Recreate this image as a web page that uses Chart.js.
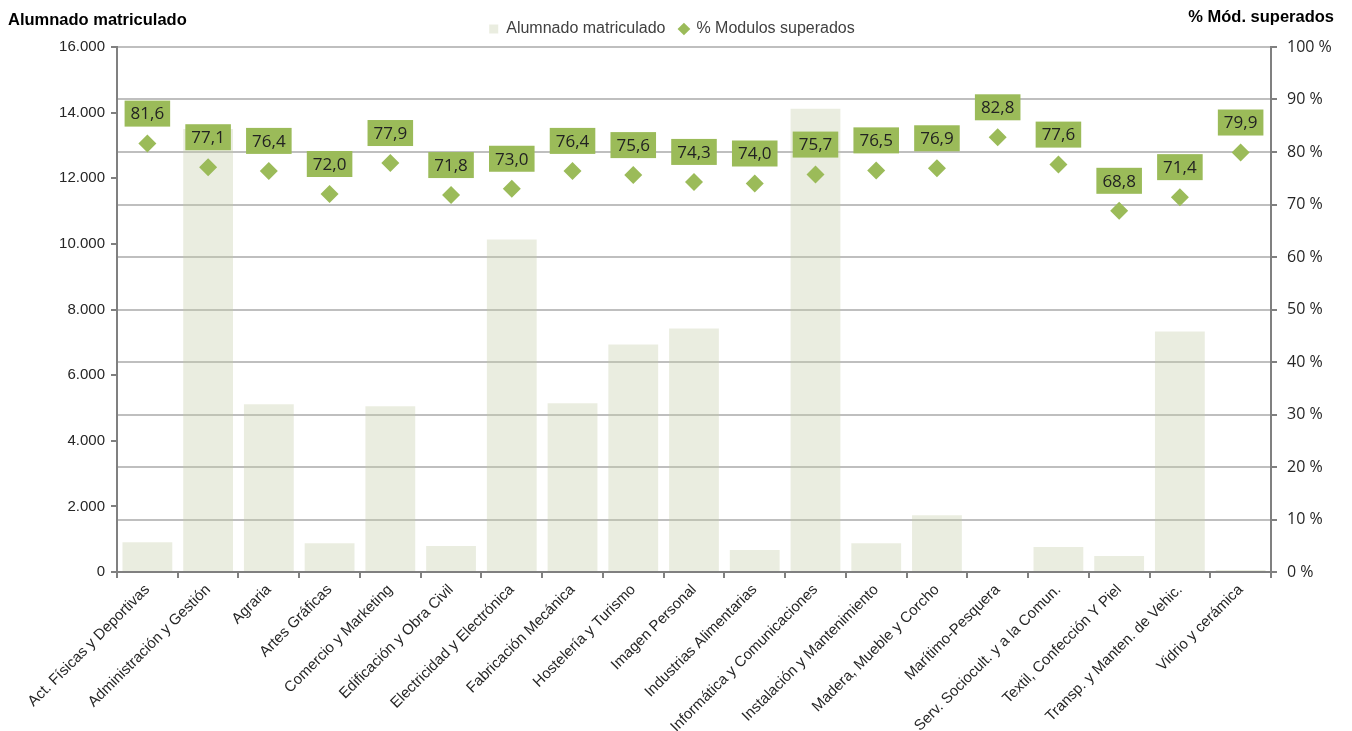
<!DOCTYPE html>
<html>
<head>
<meta charset="utf-8">
<script src="https://cdn.jsdelivr.net/npm/chart.js@4"></script>
<style>
  body { margin: 0; background: #fff; }
  #wrap { width: 1352px; height: 731px; }
</style>
</head>
<body>
<div id="wrap"><canvas id="FP_CHART"></canvas></div>
<script>
const familias = ["Act. Físicas y Deportivas", "Administración y Gestión", "Agraria", "Artes Gráficas",
    "Comercio y Marketing", "Edificación y Obra Civil", "Electricidad y Electrónica", "Fabricación Mecánica",
    "Hostelería y Turismo", "Imagen Personal", "Industrias Alimentarias", "Informática y Comunicaciones",
    "Instalación y Mantenimiento", "Madera, Mueble y Corcho", "Marítimo-Pesquera", "Serv. Sociocult. y a la Comun.",
    "Textil, Confección Y Piel", "Transp. y Manten. de Vehic.", "Vidrio y cerámica"];
const alumnado = [910, 13500, 5110, 880, 5050, 790, 10130, 5140, 6935, 7420, 670, 14115, 880, 1730, 0, 760, 490, 7330, 60];
const superados = [81.6, 77.1, 76.4, 72.0, 77.9, 71.8, 73.0, 76.4, 75.6, 74.3, 74.0, 75.7, 76.5, 76.9, 82.8, 77.6, 68.8, 71.4, 79.9];

// etiquetas verdes encima de los rombos
const etiquetas = {
    id: 'etiquetas',
    afterDatasetsDraw(chart) {
        const ctx = chart.ctx;
        const meta = chart.getDatasetMeta(1);
        ctx.save();
        ctx.font = '17px "Open Sans", sans-serif';
        ctx.textAlign = 'center';
        ctx.textBaseline = 'middle';
        meta.data.forEach((pt, i) => {
            const txt = superados[i].toFixed(1).replace('.', ',');
            const w = ctx.measureText(txt).width + 12;
            const h = 26;
            const cy = pt.y - 30;
            ctx.fillStyle = '#9BBB59';
            ctx.fillRect(pt.x - w / 2, cy - h / 2, w, h);
            ctx.fillStyle = '#222';
            ctx.fillText(txt, pt.x, cy + 1);
        });
        ctx.restore();
    },
    afterDraw(chart) {
        const ctx = chart.ctx;
        ctx.save();
        ctx.font = 'bold 16.5px "Liberation Sans", Arial, sans-serif';
        ctx.fillStyle = '#000';
        ctx.textBaseline = 'middle';
        ctx.textAlign = 'left';
        ctx.fillText('Alumnado matriculado', 8, 20);
        ctx.textAlign = 'right';
        ctx.fillText('% Mód. superados', 1334, 17);
        ctx.restore();
    }
};

const fmtMiles = v => String(v).replace(/\B(?=(\d{3})+(?!\d))/g, '.');

let myChart = new Chart(document.getElementById('FP_CHART'), {
    type: 'bar',
    data: {
        labels: familias,
        datasets: [{
            label: 'Alumnado matriculado',
            data: alumnado,
            yAxisID: 'y',
            backgroundColor: 'rgba(195,204,166,0.35)',
            categoryPercentage: 0.82,
            barPercentage: 1,
            pointStyle: 'rect',
            order: 2
        }, {
            type: 'line',
            label: '% Modulos superados',
            data: superados,
            yAxisID: 'y2',
            showLine: false,
            pointStyle: 'rectRot',
            pointRadius: 9,
            pointHoverRadius: 9,
            pointBackgroundColor: '#9BBB59',
            pointBorderWidth: 0,
            backgroundColor: '#9BBB59',
            borderColor: '#9BBB59',
            order: 1
        }]
    },
    options: {
        responsive: true,
        maintainAspectRatio: false,
        animation: false,
        layout: { padding: { top: 7, left: 10, right: 18, bottom: 0 } },
        plugins: {
            legend: {
                display: true,
                position: 'top',
                labels: {
                    usePointStyle: true,
                    boxWidth: 9,
                    boxHeight: 9,
                    padding: 14,
                    color: '#404040',
                    font: { family: '"Liberation Sans", Arial, sans-serif', size: 16 },
                    sort: (a, b) => a.datasetIndex - b.datasetIndex
                }
            },
            tooltip: { enabled: false }
        },
        scales: {
            x: {
                grid: { drawOnChartArea: false, drawTicks: true, tickLength: 6, color: '#808080', lineWidth: 2 },
                border: { color: '#808080', width: 2 },
                ticks: {
                    minRotation: 45, maxRotation: 45, autoSkip: false,
                    color: '#262626',
                    font: { family: '"Liberation Sans", Arial, sans-serif', size: 15 }
                },
                afterFit(scale) { scale.height = 159; }
            },
            y: {
                position: 'left',
                min: 0, max: 16000,
                grid: { drawOnChartArea: false, tickLength: 6, color: '#808080', lineWidth: 2 },
                border: { color: '#808080', width: 2 },
                ticks: {
                    stepSize: 2000,
                    color: '#262626',
                    padding: 6,
                    font: { family: '"Liberation Sans", Arial, sans-serif', size: 15 },
                    callback: v => fmtMiles(v)
                },
                afterFit(scale) { scale.width = 107; }
            },
            y2: {
                position: 'right',
                min: 0, max: 100,
                grid: { drawOnChartArea: true, color: '#BFBFBF', lineWidth: 2, tickColor: '#808080', tickLength: 6 },
                border: { color: '#808080', width: 2 },
                ticks: {
                    stepSize: 10,
                    color: '#262626',
                    padding: 10,
                    font: { family: '"Open Sans", sans-serif', size: 16 },
                    callback: v => v + ' %'
                },
                afterFit(scale) { scale.width = 63; }
            }
        }
    },
    plugins: [etiquetas]
});
</script>
</body>
</html>
